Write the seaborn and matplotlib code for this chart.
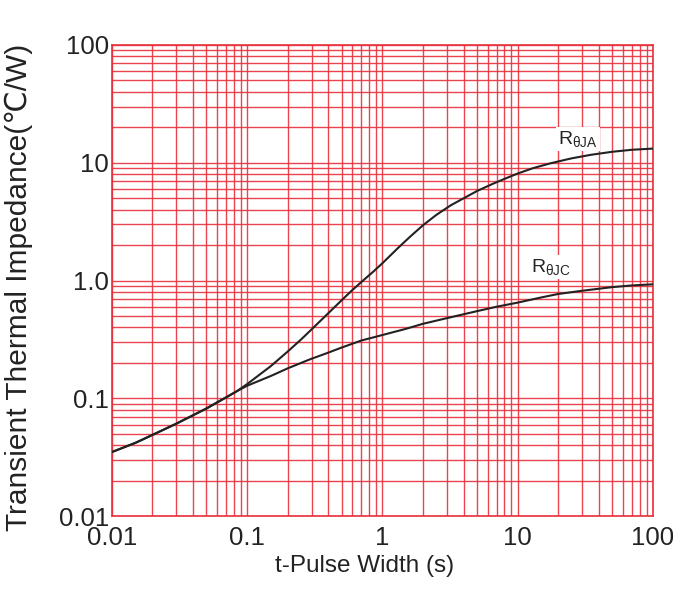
import numpy as np
import pandas as pd
import matplotlib
matplotlib.use('Agg')
import matplotlib.pyplot as plt
from matplotlib.ticker import LogLocator, FixedLocator, FixedFormatter, NullFormatter
import seaborn as sns

# values
pulse_ja = [0.01, 0.015, 0.02, 0.03, 0.05, 0.07, 0.084, 0.1, 0.15, 0.2, 0.25, 0.3, 0.4,
            0.5, 0.6, 0.72, 0.85, 1.0, 1.3, 1.6, 2.0, 2.5, 3.2, 4.0, 5.0, 6.5, 8, 10,
            13, 17.5, 25, 35, 50, 70, 100]
zth_ja = [0.035, 0.042, 0.049, 0.061, 0.082, 0.102, 0.115, 0.132, 0.188, 0.25, 0.315, 0.385, 0.53,
          0.68, 0.83, 1.0, 1.18, 1.4, 1.88, 2.35, 2.95, 3.6, 4.35, 5.0, 5.75, 6.6, 7.3, 8.1,
          9.0, 9.9, 10.9, 11.7, 12.4, 12.9, 13.2]

pulse_jc = [0.01, 0.015, 0.02, 0.03, 0.05, 0.07, 0.084, 0.1, 0.15, 0.2, 0.29, 0.4, 0.5,
            0.7, 1.0, 1.5, 2.0, 3, 5, 7, 10, 15, 20, 30, 50, 70, 100]
zth_jc = [0.035, 0.042, 0.049, 0.061, 0.082, 0.102, 0.115, 0.128, 0.155, 0.18, 0.214, 0.245, 0.27,
          0.31, 0.345, 0.39, 0.43, 0.48, 0.55, 0.60, 0.65, 0.72, 0.77, 0.82, 0.88, 0.91, 0.93]

tick_values = [0.01, 0.1, 1, 10, 100]
x_tick_labels = ['0.01', '0.1', '1', '10', '100']
y_tick_labels = ['0.01', '0.1', '1.0', '10', '100']

grid_red = '#e8313c'

sns.set_style('white')
plt.rcParams['font.family'] = ['Liberation Sans', 'DejaVu Sans']
plt.rcParams['mathtext.default'] = 'regular'

fig = plt.figure(figsize=(6.73, 5.92), dpi=100)
ax = fig.add_axes([0.166, 0.128, 0.804, 0.796])

df_ja = pd.DataFrame({'t': pulse_ja, 'z': zth_ja})
df_jc = pd.DataFrame({'t': pulse_jc, 'z': zth_jc})
sns.lineplot(data=df_ja, x='t', y='z', ax=ax, color='#222222', linewidth=1.5, zorder=5)
sns.lineplot(data=df_jc, x='t', y='z', ax=ax, color='#222222', linewidth=1.5, zorder=5)

ax.set_xscale('log')
ax.set_yscale('log')
ax.set_xlim(0.01, 100)
ax.set_ylim(0.01, 100)

ax.xaxis.set_major_locator(FixedLocator(tick_values))
ax.xaxis.set_major_formatter(FixedFormatter(x_tick_labels))
ax.yaxis.set_major_locator(FixedLocator(tick_values))
ax.yaxis.set_major_formatter(FixedFormatter(y_tick_labels))
for axis in (ax.xaxis, ax.yaxis):
    axis.set_minor_locator(LogLocator(base=10, subs=np.arange(2, 10)))
    axis.set_minor_formatter(NullFormatter())

ax.grid(True, which='both', color=grid_red, linewidth=1.0, alpha=0.9)
ax.tick_params(which='both', length=0, labelsize=18.5, colors='#222222')
ax.tick_params(axis='x', pad=7)
ax.tick_params(axis='y', pad=2)
for spine in ax.spines.values():
    spine.set_color(grid_red)
    spine.set_linewidth(1.2)

ax.set_xlabel('t-Pulse Width (s)', fontsize=17.5, color='#222222')
ax.xaxis.set_label_coords(0.468, -0.083)
ax.set_ylabel('Transient Thermal Impedance(\u2103/W)', fontsize=21.5, color='#222222')
ax.yaxis.set_label_coords(-0.146, 0.485)

box = dict(facecolor='white', edgecolor='none', pad=1.5)
ax.text(20, 16, r'R$_{\theta JA}$', fontsize=14, ha='left', va='center', bbox=box, zorder=6)
ax.text(12.5, 1.3, r'R$_{\theta JC}$', fontsize=14, ha='left', va='center', bbox=box, zorder=6)

fig.savefig('out.png', dpi=100, facecolor='white')
